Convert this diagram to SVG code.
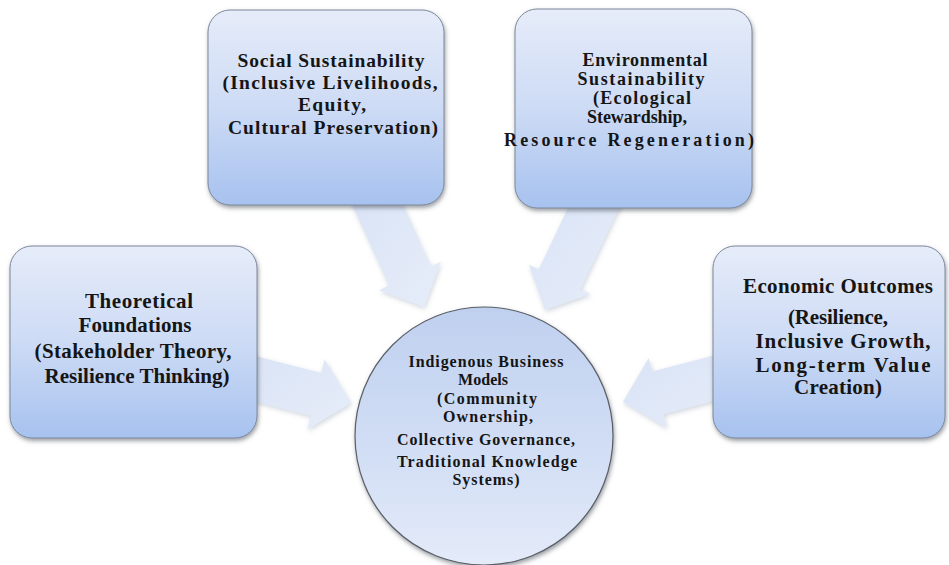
<svg xmlns="http://www.w3.org/2000/svg" width="949" height="565" viewBox="0 0 949 565">
  <defs>
    <linearGradient id="boxGrad" x1="0" y1="0" x2="0" y2="1">
      <stop offset="0" stop-color="#e6ecf9"/>
      <stop offset="0.5" stop-color="#cddbf5"/>
      <stop offset="1" stop-color="#a7c2ef"/>
    </linearGradient>
    <linearGradient id="circGrad" x1="0" y1="0" x2="0" y2="1">
      <stop offset="0" stop-color="#bfd0ef"/>
      <stop offset="0.6" stop-color="#d3dff5"/>
      <stop offset="1" stop-color="#e4ebf9"/>
    </linearGradient>
    <linearGradient id="arrGrad" x1="0" y1="0" x2="1" y2="1">
      <stop offset="0" stop-color="#d9e3f6"/>
      <stop offset="1" stop-color="#e6edf9"/>
    </linearGradient>
    <filter id="shadow" x="-10%" y="-10%" width="125%" height="130%">
      <feDropShadow dx="1" dy="2.5" stdDeviation="2" flood-color="#4a4f5a" flood-opacity="0.55"/>
    </filter>
    <filter id="softShadow" x="-20%" y="-20%" width="140%" height="140%">
      <feDropShadow dx="1" dy="2" stdDeviation="2.5" flood-color="#9aa3b3" flood-opacity="0.45"/>
    </filter>
  </defs>
  <style>
    .box { fill: url(#boxGrad); stroke: #7d889b; stroke-width: 1; filter: url(#shadow); }
    .circ { fill: url(#circGrad); stroke: #5a5f68; stroke-width: 1.2; filter: url(#shadow); }
    .arrow { fill: url(#arrGrad); stroke: none; filter: url(#softShadow); }
    .t { font-family: "Liberation Serif", "Times New Roman", serif; font-weight: bold; font-size: 21px; fill: #151515; text-anchor: middle; }
    .te { font-size: 18px; }
    .ts { font-size: 19.5px; }
    .tc { font-family: "Liberation Serif", "Times New Roman", serif; font-weight: bold; font-size: 16px; fill: #151515; text-anchor: middle; }
  </style>
  <rect width="949" height="565" fill="#ffffff"/>

  <g id="connectors">
    <polygon class="arrow" points="245.2,353.6 321.2,373 324.6,359.4 351,403 307.4,429.4 310.8,415.8 234.8,396.4"/>
    <polygon class="arrow" points="724.4,352.7 652.2,371.6 648.7,358.1 623,402 666.9,427.7 663.4,414.2 735.6,395.3"/>
    <polygon class="arrow" points="391.7,180.5 430.8,266.6 440.8,262 424,307 379,290.2 389,285.6 349.9,199.5"/>
    <polygon class="arrow" points="581.3,180.1 538.8,269.4 528.9,264.7 545,310 590.3,293.9 580.4,289.2 622.9,199.9"/>
  </g>

  <g id="node-theoretical">
    <rect class="box" x="10" y="246" width="247" height="192" rx="22" ry="22"/>
    <text class="t" x="139" y="308" textLength="108">Theoretical</text>
    <text class="t" x="135" y="332" textLength="113">Foundations</text>
    <text class="t" x="133" y="358" textLength="197">(Stakeholder Theory,</text>
    <text class="t" x="137" y="383" textLength="185">Resilience Thinking)</text>
  </g>

  <g id="node-social">
    <rect class="box" x="208" y="10" width="236" height="195" rx="22" ry="22"/>
    <text class="t ts" x="331" y="67" textLength="187">Social Sustainability</text>
    <text class="t ts" x="330" y="89" textLength="215">(Inclusive Livelihoods,</text>
    <text class="t ts" x="332" y="111" textLength="68">Equity,</text>
    <text class="t ts" x="333" y="134" textLength="210">Cultural Preservation)</text>
  </g>

  <g id="node-environmental">
    <rect class="box" x="515" y="9" width="237" height="199" rx="22" ry="22"/>
    <text class="t te" x="645" y="66" textLength="125">Environmental</text>
    <text class="t te" x="641" y="85" textLength="127">Sustainability</text>
    <text class="t te" x="642" y="104" textLength="98">(Ecological</text>
    <text class="t te" x="637" y="123" textLength="100">Stewardship,</text>
    <text class="t te" x="629" y="146" textLength="250">Resource Regeneration)</text>
  </g>

  <g id="node-economic">
    <rect class="box" x="713" y="246" width="232" height="192" rx="22" ry="22"/>
    <text class="t" x="838" y="293" textLength="190">Economic Outcomes</text>
    <text class="t" x="838" y="324" textLength="100">(Resilience,</text>
    <text class="t" x="843" y="348" textLength="175">Inclusive Growth,</text>
    <text class="t" x="843" y="372" textLength="175">Long-term Value</text>
    <text class="t" x="838" y="394" textLength="88">Creation)</text>
  </g>

  <g id="node-indigenous">
    <circle class="circ" cx="484" cy="436" r="129"/>
    <text class="tc" x="486" y="367" textLength="155">Indigenous Business</text>
    <text class="tc" x="483" y="385" textLength="50">Models</text>
    <text class="tc" x="487" y="404" textLength="100">(Community</text>
    <text class="tc" x="488" y="422" textLength="90">Ownership,</text>
    <text class="tc" x="486" y="445" textLength="178">Collective Governance,</text>
    <text class="tc" x="487" y="467" textLength="180">Traditional Knowledge</text>
    <text class="tc" x="486" y="485" textLength="67">Systems)</text>
  </g>
</svg>
